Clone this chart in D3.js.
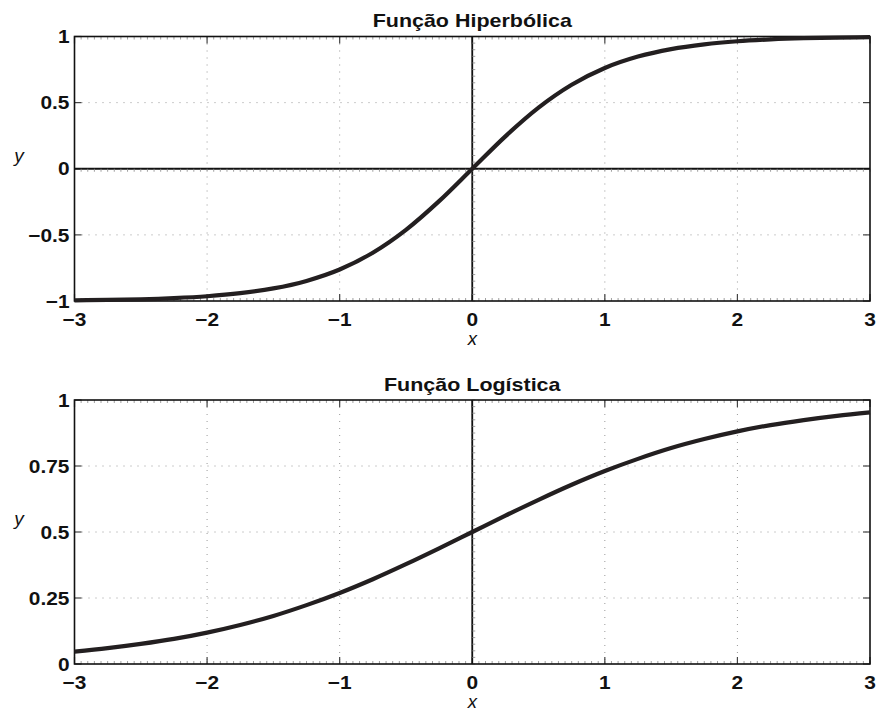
<!DOCTYPE html>
<html>
<head>
<meta charset="utf-8">
<script src="https://cdn.jsdelivr.net/npm/d3@7"></script>
<style>
  html, body { margin: 0; padding: 0; background: #fff; }
  svg { display: block; }
  text { font-family: "Liberation Sans", Arial, Helvetica, sans-serif; fill: #111; }
</style>
</head>
<body>
<svg id="chart" width="877" height="715"></svg>
<script>
// Sample points along x
const xValues = [-3, -2.75, -2.5, -2.25, -2, -1.75, -1.5, -1.25, -1, -0.75, -0.5, -0.25,
                 0, 0.25, 0.5, 0.75, 1, 1.25, 1.5, 1.75, 2, 2.25, 2.5, 2.75, 3];

// Hyperbolic tangent curve
const tanhValues = [-0.995, -0.992, -0.987, -0.978, -0.964, -0.941, -0.905, -0.848, -0.762, -0.635, -0.462, -0.245,
                    0, 0.245, 0.462, 0.635, 0.762, 0.848, 0.905, 0.941, 0.964, 0.978, 0.987, 0.992, 0.995];

// Logistic curve
const logisticValues = [0.047, 0.060, 0.076, 0.095, 0.119, 0.148, 0.182, 0.223, 0.269, 0.321, 0.378, 0.438,
                        0.5, 0.562, 0.622, 0.679, 0.731, 0.777, 0.818, 0.852, 0.881, 0.905, 0.924, 0.940, 0.953];

const xTicks = [-3, -2, -1, 0, 1, 2, 3];
const xTickLabels = ["\u22123", "\u22122", "\u22121", "0", "1", "2", "3"];
const tanhTicks = [-1, -0.5, 0, 0.5, 1];
const tanhTickLabels = ["\u22121", "\u22120.5", "0", "0.5", "1"];
const logisticTicks = [0, 0.25, 0.5, 0.75, 1];
const logisticTickLabels = ["0", "0.25", "0.5", "0.75", "1"];

const titles = ["Fun\u00e7\u00e3o Hiperb\u00f3lica", "Fun\u00e7\u00e3o Log\u00edstica"];

const svg = d3.select("#chart");

const left = 74.5, right = 870;
const stretch = 1.13; // glyphs are drawn slightly wide

function wideText(sel, px, py) {
  return sel.attr("transform", (d, i) => {
    const X = typeof px === "function" ? px(d, i) : px;
    const Y = typeof py === "function" ? py(d, i) : py;
    return `translate(${X},${Y}) scale(${stretch},1)`;
  });
}

function panel(top, bottom, yDomain, yTicks, yLabels, yValues, title, drawZeroY) {
  const x = d3.scaleLinear().domain([-3, 3]).range([left, right]);
  const y = d3.scaleLinear().domain(yDomain).range([bottom, top]);
  const g = svg.append("g");

  // dotted grid
  g.append("g").selectAll("line").data(xTicks.filter(d => d > -3 && d < 3)).join("line")
    .attr("x1", d => x(d)).attr("x2", d => x(d)).attr("y1", top).attr("y2", bottom)
    .attr("stroke", "#999").attr("stroke-width", 1).attr("stroke-dasharray", "1,6");
  g.append("g").selectAll("line").data(yTicks.slice(1, -1)).join("line")
    .attr("x1", left).attr("x2", right).attr("y1", d => y(d)).attr("y2", d => y(d))
    .attr("stroke", "#999").attr("stroke-width", 1).attr("stroke-dasharray", "1,6");

  // minor ticks on top and bottom edges
  const minorX = d3.range(-3, 3.001, 0.05);
  const minorY = d3.range(yDomain[0], yDomain[1] + 0.0001, (yDomain[1] - yDomain[0]) / 40);
  g.append("g").selectAll("line").data(minorX).join("line")
    .attr("x1", d => x(d)).attr("x2", d => x(d)).attr("y1", top).attr("y2", top + 3)
    .attr("stroke", "#888").attr("stroke-width", 0.8);
  g.append("g").selectAll("line").data(minorX).join("line")
    .attr("x1", d => x(d)).attr("x2", d => x(d)).attr("y1", bottom).attr("y2", bottom - 3)
    .attr("stroke", "#888").attr("stroke-width", 0.8);

  // major ticks
  g.append("g").selectAll("line").data(xTicks).join("line")
    .attr("x1", d => x(d)).attr("x2", d => x(d)).attr("y1", top).attr("y2", top + 7)
    .attr("stroke", "#444").attr("stroke-width", 1.2);
  g.append("g").selectAll("line").data(xTicks).join("line")
    .attr("x1", d => x(d)).attr("x2", d => x(d)).attr("y1", bottom).attr("y2", bottom - 7)
    .attr("stroke", "#444").attr("stroke-width", 1.2);
  g.append("g").selectAll("line").data(yTicks).join("line")
    .attr("x1", left).attr("x2", left + 7).attr("y1", d => y(d)).attr("y2", d => y(d))
    .attr("stroke", "#444").attr("stroke-width", 1.2);
  g.append("g").selectAll("line").data(yTicks).join("line")
    .attr("x1", right).attr("x2", right - 7).attr("y1", d => y(d)).attr("y2", d => y(d))
    .attr("stroke", "#444").attr("stroke-width", 1.2);

  // axis lines through the origin
  g.append("line").attr("x1", x(0)).attr("x2", x(0)).attr("y1", top).attr("y2", bottom)
    .attr("stroke", "#111").attr("stroke-width", 1.8);
  g.append("g").selectAll("line").data(minorY).join("line")
    .attr("x1", x(0)).attr("x2", x(0) + 3).attr("y1", d => y(d)).attr("y2", d => y(d))
    .attr("stroke", "#888").attr("stroke-width", 0.8);
  if (drawZeroY) {
    g.append("line").attr("x1", left).attr("x2", right).attr("y1", y(0)).attr("y2", y(0))
      .attr("stroke", "#111").attr("stroke-width", 1.8);
    g.append("g").selectAll("line").data(minorX).join("line")
      .attr("x1", d => x(d)).attr("x2", d => x(d)).attr("y1", y(0)).attr("y2", y(0) + 3)
      .attr("stroke", "#888").attr("stroke-width", 0.8);
  }

  // box
  g.append("rect").attr("x", left).attr("y", top).attr("width", right - left).attr("height", bottom - top)
    .attr("fill", "none").attr("stroke", "#111").attr("stroke-width", 1.6);

  // curve
  const pts = xValues.map((v, i) => [v, yValues[i]]);
  const line = d3.line().x(d => x(d[0])).y(d => y(d[1])).curve(d3.curveMonotoneX);
  g.append("path").datum(pts).attr("d", line)
    .attr("fill", "none").attr("stroke", "#231f20").attr("stroke-width", 4.2)
    .attr("stroke-linejoin", "round").attr("stroke-linecap", "butt");

  // tick labels
  wideText(g.append("g").selectAll("text").data(xTicks).join("text"), d => x(d), bottom + 25)
    .attr("text-anchor", "middle").attr("font-size", 18.5).attr("font-weight", "bold")
    .text((d, i) => xTickLabels[i]);
  wideText(g.append("g").selectAll("text").data(yTicks).join("text"), left - 5, d => y(d))
    .attr("dy", "0.36em")
    .attr("text-anchor", "end").attr("font-size", 18.5).attr("font-weight", "bold")
    .text((d, i) => yLabels[i]);

  // title and axis labels
  wideText(g.append("text"), (left + right) / 2, top - 9.5)
    .attr("text-anchor", "middle").attr("font-size", 19).attr("font-weight", "bold")
    .text(title);
  g.append("text").attr("x", x(0)).attr("y", bottom + 44)
    .attr("text-anchor", "middle").attr("font-size", 18.5).attr("font-style", "italic")
    .text("x");
  g.append("text").attr("x", 19).attr("y", (top + bottom) / 2 - 7)
    .attr("text-anchor", "middle").attr("font-size", 19).attr("font-style", "italic")
    .text("y");
}

panel(36.5, 301, [-1, 1], tanhTicks, tanhTickLabels, tanhValues, titles[0], true);
panel(400, 664, [0, 1], logisticTicks, logisticTickLabels, logisticValues, titles[1], false);
</script>
</body>
</html>
